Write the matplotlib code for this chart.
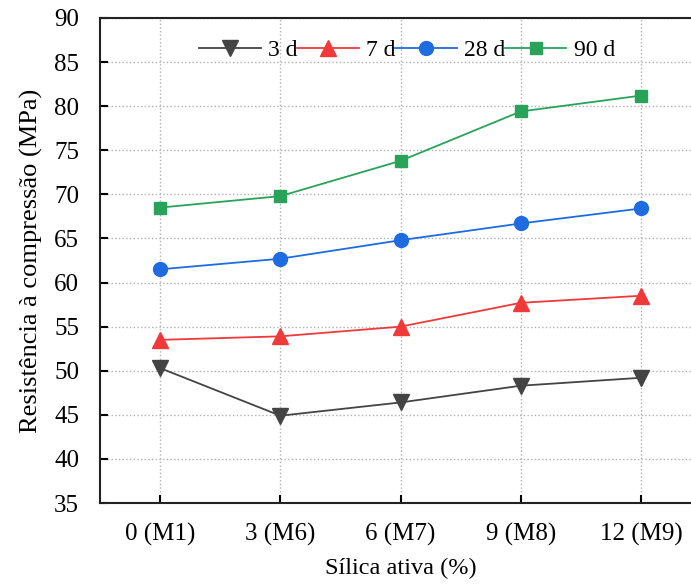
import matplotlib.pyplot as plt
import numpy as np

plt.rcParams["font.family"] = ["Liberation Serif", "DejaVu Serif"]

categories = ["0 (M1)", "3 (M6)", "6 (M7)", "9 (M8)", "12 (M9)"]
series_labels = ["3 d", "7 d", "28 d", "90 d"]
strength_3d = [50.3, 44.9, 46.4, 48.3, 49.2]
strength_7d = [53.5, 53.9, 55.0, 57.7, 58.5]
strength_28d = [61.5, 62.7, 64.8, 66.7, 68.4]
strength_90d = [68.5, 69.8, 73.8, 79.4, 81.2]

colors = ["#444444", "#f03a3a", "#1f6be0", "#2aa35a"]
markers = ["v", "^", "o", "s"]
msizes = [11, 11, 10, 8]

fig = plt.figure(figsize=(6.91, 5.87), dpi=100)
ax = fig.add_axes([100 / 691, 84 / 587, 601 / 691, 485 / 587])

x = np.arange(len(categories))
for vals, lab, c, m, ms in zip(
    [strength_3d, strength_7d, strength_28d, strength_90d], series_labels, colors, markers, msizes
):
    ax.plot(x, vals, color=c, marker=m, markersize=ms, linewidth=1.3, label=lab)

ax.set_xlim(-0.5, 4.5)
ax.set_ylim(35, 90)
ax.set_yticks(np.arange(35, 91, 5))
ax.set_xticks(x)
ax.set_xticklabels(categories)
ax.tick_params(axis="both", direction="in", length=6, width=1.5, labelsize=18)
ax.tick_params(axis="x", pad=14)
ax.tick_params(axis="y", pad=15)
ax.grid(True, linestyle=":", color="#b0b0b0", linewidth=1)
ax.set_axisbelow(True)
ax.spines["right"].set_visible(False)
for side in ["left", "bottom", "top"]:
    ax.spines[side].set_linewidth(1.5)
    ax.spines[side].set_color("#222222")

ax.set_xlabel("Sílica ativa (%)", fontsize=17.5, labelpad=9)
ax.set_ylabel("Resistência à compressão (MPa)", fontsize=19, labelpad=8)

ax.legend(
    loc="upper left",
    bbox_to_anchor=(0.13, 1.0),
    ncol=4,
    frameon=False,
    fontsize=17,
    handlelength=2.6,
    handletextpad=0.3,
    columnspacing=0.0,
)

fig.savefig("out.png", dpi=100)
